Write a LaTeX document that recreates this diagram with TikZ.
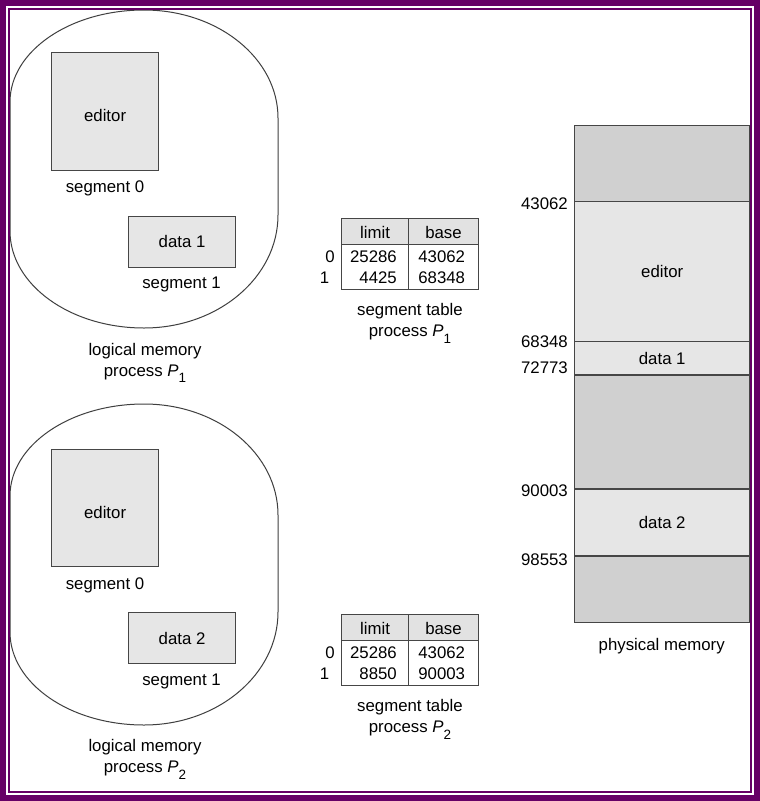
\documentclass[tikz,border=0pt]{standalone}
\usepackage{fontspec}
\setmainfont{Liberation Sans}
\definecolor{purp}{RGB}{102,0,102}
\definecolor{segfill}{RGB}{230,230,230}
\definecolor{freefill}{RGB}{208,208,208}
\definecolor{hdrfill}{RGB}{226,226,226}
\definecolor{edgec}{RGB}{70,70,70}
\newcommand\figfont{\fontsize{16.8}{21}\selectfont}
\newcommand\subidx[1]{\raisebox{-6.5pt}{\fontsize{13.5}{13.5}\selectfont #1}}
\tikzset{
  lbl/.style={font=\figfont, inner sep=0pt, text height=12pt, text depth=0pt},
  mlbl/.style={font=\figfont, inner sep=0pt, align=center, anchor=base},
  segbox/.style={draw=edgec, fill=segfill, line width=1.2pt, inner sep=0pt, anchor=north west,
                 font=\figfont, text height=12pt, text depth=0pt},
  memblk/.style={draw=edgec, line width=1.2pt, inner sep=0pt, anchor=north west,
                 minimum width=175.3pt, font=\figfont, text height=12pt, text depth=0pt},
  cell/.style={draw=edgec, line width=1.1pt, inner sep=0pt, anchor=north west},
  addr/.style={font=\figfont, inner sep=0pt, text height=12pt, text depth=0pt, anchor=east},
  blobline/.style={draw=edgec!90!black, line width=1pt},
}
\begin{document}
\begin{tikzpicture}[x=1pt,y=-1pt]
\useasboundingbox (0,0) rectangle (760,801);
\fill[white] (0,0) rectangle (760,801);

% ---------- logical memory P1 ----------
\path[blobline] (10,102) .. controls (10,51.2) and (70,10) .. (144,10)
  .. controls (218,10) and (278,58.4) .. (278,118) -- (278,215)
  .. controls (278,277.4) and (218,328) .. (144,328)
  .. controls (70,328) and (10,284.6) .. (10,231) -- cycle;
\node[segbox, minimum width=107pt, minimum height=118pt, text height=20pt] (ed1) at (51,52) {editor};
\node[lbl] (s01) at (105,186) {segment 0};
\node[segbox, minimum width=107pt, minimum height=50.7pt] (da1) at (128,216) {data 1};
\node[lbl] (s11) at (181.5,282.7) {segment 1};
\node[mlbl] (lm1) at (145,376) {logical memory\\process \textit{P}\subidx{1}};

% ---------- logical memory P2 ----------
\path[blobline] (10,496) .. controls (10,445.2) and (70,404) .. (144,404)
  .. controls (218,404) and (278,453.7) .. (278,515) -- (278,612)
  .. controls (278,674.4) and (218,725) .. (144,725)
  .. controls (70,725) and (10,683.4) .. (10,632) -- cycle;
\node[segbox, minimum width=107pt, minimum height=117pt, text height=20pt] (ed2) at (51,449) {editor};
\node[lbl] (s02) at (105,583) {segment 0};
\node[segbox, minimum width=107pt, minimum height=51pt] (da2) at (128,612) {data 2};
\node[lbl] (s12) at (181.5,679) {segment 1};
\node[mlbl] (lm2) at (145,772.7) {logical memory\\process \textit{P}\subidx{2}};

% ---------- segment table P1 ----------
\node[cell, fill=hdrfill, minimum width=67.6pt, minimum height=26pt] (t1h1) at (340.7,217.7) {};
\node[cell, fill=hdrfill, minimum width=69.4pt, minimum height=26pt] (t1h2) at (408.3,217.7) {};
\node[cell, minimum width=67.6pt, minimum height=45.6pt] (t1b1) at (340.7,243.7) {};
\node[cell, minimum width=69.4pt, minimum height=45.6pt] (t1b2) at (408.3,243.7) {};
\node[lbl] (t1l) at (375,232) {limit};
\node[lbl] (t1b) at (443.5,232) {base};
\node[lbl] (t1r0) at (330,256.7) {0};
\node[lbl] (t1r1) at (324.5,277.3) {1};
\node[lbl, anchor=east] (t1a) at (397,256.7) {25286};
\node[lbl, anchor=east] (t1c) at (397,277.3) {4425};
\node[lbl] (t1d) at (441.7,256.7) {43062};
\node[lbl] (t1e) at (441.7,277.3) {68348};
\node[mlbl] (st1) at (410,336.5) {segment table\\process \textit{P}\subidx{1}};

% ---------- segment table P2 ----------
\node[cell, fill=hdrfill, minimum width=67.6pt, minimum height=26pt] (t2h1) at (340.7,613.7) {};
\node[cell, fill=hdrfill, minimum width=69.4pt, minimum height=26pt] (t2h2) at (408.3,613.7) {};
\node[cell, minimum width=67.6pt, minimum height=45.6pt] (t2b1) at (340.7,639.7) {};
\node[cell, minimum width=69.4pt, minimum height=45.6pt] (t2b2) at (408.3,639.7) {};
\node[lbl] (t2l) at (375,628.5) {limit};
\node[lbl] (t2b) at (443.5,628.5) {base};
\node[lbl] (t2r0) at (330,652.7) {0};
\node[lbl] (t2r1) at (324.5,673.3) {1};
\node[lbl, anchor=east] (t2a) at (397,652.7) {25286};
\node[lbl, anchor=east] (t2c) at (397,673.3) {8850};
\node[lbl] (t2d) at (441.7,652.7) {43062};
\node[lbl] (t2e) at (441.7,673.3) {90003};
\node[mlbl] (st2) at (410,732.5) {segment table\\process \textit{P}\subidx{2}};

% ---------- physical memory ----------
\node[memblk, fill=freefill, minimum height=76pt] (m0) at (574,125) {};
\node[memblk, fill=segfill, minimum height=139.7pt] (m1) at (574,201) {editor};
\node[memblk, fill=segfill, minimum height=33.6pt] (m2) at (574,340.7) {data 1};
\node[memblk, fill=freefill, minimum height=114pt] (m3) at (574,374.3) {};
\node[memblk, fill=segfill, minimum height=67pt] (m4) at (574,488.3) {data 2};
\node[memblk, fill=freefill, minimum height=66.4pt] (m5) at (574,555.3) {};
\node[lbl] (pm) at (661.7,644.3) {physical memory};
\node[addr] (a1) at (568,203.3) {43062};
\node[addr] (a2) at (568,341.7) {68348};
\node[addr] (a3) at (568,367.7) {72773};
\node[addr] (a4) at (568,490) {90003};
\node[addr] (a5) at (568,559.3) {98553};

% ---------- frame ----------
\draw[purp, line width=6pt] (3,3) rectangle (757,798);
\draw[purp, line width=2pt] (9,9) rectangle (751,792);
\end{tikzpicture}
\end{document}
